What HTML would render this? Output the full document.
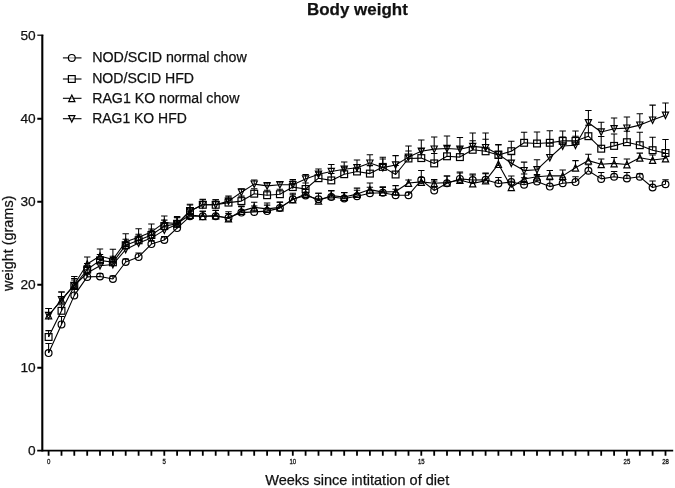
<!DOCTYPE html>
<html><head><meta charset="utf-8"><title>Body weight</title>
<style>
html,body{margin:0;padding:0;background:#fff;}
body{width:675px;height:488px;overflow:hidden;}
svg{display:block;font-family:"Liberation Sans",Arial,Helvetica,sans-serif;fill:#111;}
.ax{stroke:#000;stroke-width:1.9;fill:none;stroke-linecap:butt}
.ln{stroke:#000;stroke-width:1.1;fill:none;stroke-linejoin:round}
.mk{stroke:#000;stroke-width:1.2;fill:none}
.lg{fill:#fff;fill-opacity:.6}
.eb{stroke:#000;stroke-width:1.05;fill:none}
text{stroke:#111;stroke-width:.25}
</style></head><body>
<svg width="675" height="488" viewBox="0 0 675 488">
<rect x="0" y="0" width="675" height="488" fill="#fff" stroke="none"/>
<text x="357.4" y="15.1" text-anchor="middle" font-size="17.4" font-weight="bold" textLength="100.8" lengthAdjust="spacingAndGlyphs">Body weight</text>
<path class="ax" style="stroke-width:2.1" d="M42.3,34.7V451.5"/>
<path class="ax" d="M37.2,450.6H673.2"/>
<path class="ax" style="stroke-width:1.9" d="M37.3,118.7H42.3M37.3,201.7H42.3M37.3,284.7H42.3M37.3,367.7H42.3"/>
<path class="ax" style="stroke-width:1.2" d="M37.3,35.2H43.3"/>
<text x="35.7" y="39.8" text-anchor="end" font-size="13.7">50</text>
<text x="35.7" y="123.2" text-anchor="end" font-size="13.7">40</text>
<text x="35.7" y="206.1" text-anchor="end" font-size="13.7">30</text>
<text x="35.7" y="289.1" text-anchor="end" font-size="13.7">20</text>
<text x="35.7" y="372.1" text-anchor="end" font-size="13.7">10</text>
<text x="35.7" y="455.1" text-anchor="end" font-size="13.7">0</text>
<path class="ax" style="stroke-width:1.8" d="M48.6,450.6V455.7M61.5,450.6V455.7M74.3,450.6V455.7M87.2,450.6V455.7M100,450.6V455.7M112.9,450.6V455.7M125.7,450.6V455.7M138.6,450.6V455.7M151.4,450.6V455.7M164.3,450.6V455.7M177.1,450.6V455.7M190,450.6V455.7M202.8,450.6V455.7M215.7,450.6V455.7M228.5,450.6V455.7M241.4,450.6V455.7M254.2,450.6V455.7M267.1,450.6V455.7M279.9,450.6V455.7M292.8,450.6V455.7M305.6,450.6V455.7M318.5,450.6V455.7M331.3,450.6V455.7M344.2,450.6V455.7M357,450.6V455.7M369.9,450.6V455.7M382.8,450.6V455.7M395.6,450.6V455.7M408.5,450.6V455.7M421.3,450.6V455.7M434.2,450.6V455.7M447,450.6V455.7M459.9,450.6V455.7M472.7,450.6V455.7M485.6,450.6V455.7M498.4,450.6V455.7M511.3,450.6V455.7M524.1,450.6V455.7M537,450.6V455.7M549.8,450.6V455.7M562.7,450.6V455.7M575.5,450.6V455.7M588.4,450.6V455.7M601.2,450.6V455.7M614.1,450.6V455.7M626.9,450.6V455.7M639.8,450.6V455.7M652.6,450.6V455.7M665.5,450.6V455.7"/>
<text x="48.6" y="464.4" text-anchor="middle" font-size="7.6" style="stroke-width:.3" textLength="3.4" lengthAdjust="spacingAndGlyphs">0</text>
<text x="164.3" y="464.4" text-anchor="middle" font-size="7.6" style="stroke-width:.3" textLength="3.4" lengthAdjust="spacingAndGlyphs">5</text>
<text x="292.8" y="464.4" text-anchor="middle" font-size="7.6" style="stroke-width:.3" textLength="6.7" lengthAdjust="spacingAndGlyphs">10</text>
<text x="421.3" y="464.4" text-anchor="middle" font-size="7.6" style="stroke-width:.3" textLength="6.7" lengthAdjust="spacingAndGlyphs">15</text>
<text x="626.9" y="464.4" text-anchor="middle" font-size="7.6" style="stroke-width:.3" textLength="6.7" lengthAdjust="spacingAndGlyphs">25</text>
<text x="665.5" y="464.4" text-anchor="middle" font-size="7.6" style="stroke-width:.3" textLength="6.7" lengthAdjust="spacingAndGlyphs">28</text>
<text x="357.2" y="484.8" text-anchor="middle" font-size="14.5" textLength="184" lengthAdjust="spacingAndGlyphs">Weeks since intitation of diet</text>
<text transform="translate(12.6,243.3) rotate(-90)" text-anchor="middle" font-size="14.5" textLength="95.4" lengthAdjust="spacingAndGlyphs">weight (grams)</text>
<path class="ln" d="M62.9,57.9H81.5"/><g class="mk lg"><circle cx="71.8" cy="57.9" r="3.4"/></g><text x="92.2" y="62.25" font-size="14.7" textLength="154.6" lengthAdjust="spacingAndGlyphs">NOD/SCID normal chow</text>
<path class="ln" d="M62.9,79.0H81.5"/><g class="mk lg"><rect x="68.4" y="75.6" width="6.8" height="6.8"/></g><text x="92.2" y="83.2" font-size="14.7" textLength="101.8" lengthAdjust="spacingAndGlyphs">NOD/SCID HFD</text>
<path class="ln" d="M62.9,98.3H81.5"/><g class="mk lg"><path d="M71.8,95.1L74.9,101.7L68.7,101.7Z"/></g><text x="92.2" y="102.55" font-size="14.7" textLength="147.2" lengthAdjust="spacingAndGlyphs">RAG1 KO normal chow</text>
<path class="ln" d="M62.9,118.7H81.5"/><g class="mk lg"><path d="M71.8,122L74.9,115.6L68.7,115.6Z"/></g><text x="92.2" y="123.2" font-size="14.7" textLength="94.6" lengthAdjust="spacingAndGlyphs">RAG1 KO HFD</text>
<polyline class="ln" points="48.6,353.1 61.5,324.4 74.3,295.4 87.2,276.9 100,276.5 112.9,279 125.7,262 138.6,256.9 151.4,244.1 164.3,240 177.1,228.1 190,216.3 202.8,216.3 215.7,216.3 228.5,217.8 241.4,212.6 254.2,211.9 267.1,211.1 279.9,208.1 292.8,199.3 305.6,195.5 318.5,199.3 331.3,197 344.2,198.5 357,196.3 369.9,193.2 382.8,192.8 395.6,195.2 408.5,195.2 421.3,180 434.2,190.4 447,183.3 459.9,178.9 472.7,180 485.6,179.8 498.4,183.5 511.3,182 524.1,184.8 537,181.4 549.8,186.6 562.7,183.2 575.5,182.1 588.4,170.7 601.2,178.9 614.1,176.8 626.9,178.5 639.8,176.8 652.6,187.5 665.5,184.3"/>
<path class="eb" d="M48.6,353.1V343.4M45.4,343.4H51.8M61.5,324.4V316.4M58.3,316.4H64.7M74.3,295.4V288.4M71.1,288.4H77.5M87.2,276.9V273.7M84,273.7H90.4M100,276.5V273.5M96.8,273.5H103.2M112.9,279V276M109.7,276H116.1M125.7,262V259M122.5,259H128.9M138.6,256.9V252.9M135.4,252.9H141.8M151.4,244.1V240.6M148.2,240.6H154.6M164.3,240V236.5M161.1,236.5H167.5M177.1,228.1V223.1M173.9,223.1H180.3M190,216.3V211.3M186.8,211.3H193.2M202.8,216.3V211.3M199.6,211.3H206M215.7,216.3V210.3M212.5,210.3H218.9M228.5,217.8V211.8M225.3,211.8H231.7M241.4,212.6V206.6M238.2,206.6H244.6M254.2,211.9V205.9M251,205.9H257.4M267.1,211.1V205.1M263.9,205.1H270.3M279.9,208.1V202.1M276.7,202.1H283.1M292.8,199.3V193.3M289.6,193.3H296M305.6,195.5V189.5M302.4,189.5H308.8M318.5,199.3V193.3M315.3,193.3H321.7M331.3,197V191M328.1,191H334.5M344.2,198.5V192.5M341,192.5H347.4M357,196.3V190.3M353.8,190.3H360.2M369.9,193.2V187.2M366.7,187.2H373.1M382.8,192.8V186.8M379.6,186.8H386M395.6,195.2V189.2M392.4,189.2H398.8M408.5,195.2V192.2M405.3,192.2H411.7M421.3,180V170.4M418.1,170.4H424.5M434.2,190.4V181M431,181H437.4M447,183.3V176M443.8,176H450.2M459.9,178.9V172.9M456.7,172.9H463.1M472.7,180V174M469.5,174H475.9M485.6,179.8V173.8M482.4,173.8H488.8M498.4,183.5V177.5M495.2,177.5H501.6M511.3,182V176M508.1,176H514.5M524.1,184.8V177.8M520.9,177.8H527.3M537,181.4V174.4M533.8,174.4H540.2M549.8,186.6V179.6M546.6,179.6H553M562.7,183.2V177.2M559.5,177.2H565.9M575.5,182.1V176.8M572.3,176.8H578.7M588.4,170.7V164.7M585.2,164.7H591.6M601.2,178.9V172.5M598,172.5H604.4M614.1,176.8V171.4M610.9,171.4H617.3M626.9,178.5V172.5M623.7,172.5H630.1M639.8,176.8V173.8M636.6,173.8H643M652.6,187.5V181M649.4,181H655.8M665.5,184.3V179.8M662.3,179.8H668.7"/>
<g class="mk"><circle cx="48.6" cy="353.1" r="3.4"/><circle cx="61.5" cy="324.4" r="3.4"/><circle cx="74.3" cy="295.4" r="3.4"/><circle cx="87.2" cy="276.9" r="3.4"/><circle cx="100" cy="276.5" r="3.4"/><circle cx="112.9" cy="279" r="3.4"/><circle cx="125.7" cy="262" r="3.4"/><circle cx="138.6" cy="256.9" r="3.4"/><circle cx="151.4" cy="244.1" r="3.4"/><circle cx="164.3" cy="240" r="3.4"/><circle cx="177.1" cy="228.1" r="3.4"/><circle cx="190" cy="216.3" r="3.4"/><circle cx="202.8" cy="216.3" r="3.4"/><circle cx="215.7" cy="216.3" r="3.4"/><circle cx="228.5" cy="217.8" r="3.4"/><circle cx="241.4" cy="212.6" r="3.4"/><circle cx="254.2" cy="211.9" r="3.4"/><circle cx="267.1" cy="211.1" r="3.4"/><circle cx="279.9" cy="208.1" r="3.4"/><circle cx="292.8" cy="199.3" r="3.4"/><circle cx="305.6" cy="195.5" r="3.4"/><circle cx="318.5" cy="199.3" r="3.4"/><circle cx="331.3" cy="197" r="3.4"/><circle cx="344.2" cy="198.5" r="3.4"/><circle cx="357" cy="196.3" r="3.4"/><circle cx="369.9" cy="193.2" r="3.4"/><circle cx="382.8" cy="192.8" r="3.4"/><circle cx="395.6" cy="195.2" r="3.4"/><circle cx="408.5" cy="195.2" r="3.4"/><circle cx="421.3" cy="180" r="3.4"/><circle cx="434.2" cy="190.4" r="3.4"/><circle cx="447" cy="183.3" r="3.4"/><circle cx="459.9" cy="178.9" r="3.4"/><circle cx="472.7" cy="180" r="3.4"/><circle cx="485.6" cy="179.8" r="3.4"/><circle cx="498.4" cy="183.5" r="3.4"/><circle cx="511.3" cy="182" r="3.4"/><circle cx="524.1" cy="184.8" r="3.4"/><circle cx="537" cy="181.4" r="3.4"/><circle cx="549.8" cy="186.6" r="3.4"/><circle cx="562.7" cy="183.2" r="3.4"/><circle cx="575.5" cy="182.1" r="3.4"/><circle cx="588.4" cy="170.7" r="3.4"/><circle cx="601.2" cy="178.9" r="3.4"/><circle cx="614.1" cy="176.8" r="3.4"/><circle cx="626.9" cy="178.5" r="3.4"/><circle cx="639.8" cy="176.8" r="3.4"/><circle cx="652.6" cy="187.5" r="3.4"/><circle cx="665.5" cy="184.3" r="3.4"/></g>
<polyline class="ln" points="48.6,337 61.5,310.8 74.3,286 87.2,269.5 100,260.4 112.9,262.3 125.7,245.2 138.6,240.3 151.4,235 164.3,226.1 177.1,223.8 190,211 202.8,204.8 215.7,204.8 228.5,202.6 241.4,201.1 254.2,193.7 267.1,195.2 279.9,194.2 292.8,187.1 305.6,189 318.5,178.2 331.3,180.4 344.2,174.2 357,171.5 369.9,173.6 382.8,166.9 395.6,174.5 408.5,158.5 421.3,158.1 434.2,163.4 447,156.3 459.9,157.1 472.7,149.8 485.6,151.3 498.4,155 511.3,151.2 524.1,142.8 537,143.5 549.8,142.8 562.7,140.9 575.5,140.9 588.4,136.2 601.2,148.7 614.1,145.9 626.9,142.2 639.8,145.2 652.6,150.2 665.5,153"/>
<path class="eb" d="M48.6,337V330.6M45.4,330.6H51.8M61.5,310.8V304.8M58.3,304.8H64.7M74.3,286V280M71.1,280H77.5M87.2,269.5V263.5M84,263.5H90.4M100,260.4V254.4M96.8,254.4H103.2M112.9,262.3V256.3M109.7,256.3H116.1M125.7,245.2V239.2M122.5,239.2H128.9M138.6,240.3V234.3M135.4,234.3H141.8M151.4,235V229M148.2,229H154.6M164.3,226.1V220.1M161.1,220.1H167.5M177.1,223.8V217.8M173.9,217.8H180.3M190,211V205M186.8,205H193.2M202.8,204.8V199.3M199.6,199.3H206M215.7,204.8V199.7M212.5,199.7H218.9M228.5,202.6V198.1M225.3,198.1H231.7M241.4,201.1V196.1M238.2,196.1H244.6M254.2,193.7V188.7M251,188.7H257.4M267.1,195.2V190.2M263.9,190.2H270.3M279.9,194.2V189.2M276.7,189.2H283.1M292.8,187.1V181.1M289.6,181.1H296M305.6,189V183M302.4,183H308.8M318.5,178.2V172.2M315.3,172.2H321.7M331.3,180.4V173.4M328.1,173.4H334.5M344.2,174.2V167.2M341,167.2H347.4M357,171.5V164.5M353.8,164.5H360.2M369.9,173.6V165.6M366.7,165.6H373.1M382.8,166.9V158.9M379.6,158.9H386M395.6,174.5V165.5M392.4,165.5H398.8M408.5,158.5V150.9M405.3,150.9H411.7M421.3,158.1V148.6M418.1,148.6H424.5M434.2,163.4V153.4M431,153.4H437.4M447,156.3V146.3M443.8,146.3H450.2M459.9,157.1V147.1M456.7,147.1H463.1M472.7,149.8V140.8M469.5,140.8H475.9M485.6,151.3V139.3M482.4,139.3H488.8M498.4,155V145M495.2,145H501.6M511.3,151.2V141.2M508.1,141.2H514.5M524.1,142.8V132.2M520.9,132.2H527.3M537,143.5V132M533.8,132H540.2M549.8,142.8V130.8M546.6,130.8H553M562.7,140.9V130.9M559.5,130.9H565.9M575.5,140.9V130.9M572.3,130.9H578.7M588.4,136.2V125.2M585.2,125.2H591.6M601.2,148.7V136.4M598,136.4H604.4M614.1,145.9V133.9M610.9,133.9H617.3M626.9,142.2V131.2M623.7,131.2H630.1M639.8,145.2V132.3M636.6,132.3H643M652.6,150.2V137.3M649.4,137.3H655.8M665.5,153V139.4M662.3,139.4H668.7"/>
<g class="mk"><rect x="45.2" y="333.6" width="6.8" height="6.8"/><rect x="58.1" y="307.4" width="6.8" height="6.8"/><rect x="70.9" y="282.6" width="6.8" height="6.8"/><rect x="83.8" y="266.1" width="6.8" height="6.8"/><rect x="96.6" y="257" width="6.8" height="6.8"/><rect x="109.5" y="258.9" width="6.8" height="6.8"/><rect x="122.3" y="241.8" width="6.8" height="6.8"/><rect x="135.2" y="236.9" width="6.8" height="6.8"/><rect x="148" y="231.6" width="6.8" height="6.8"/><rect x="160.9" y="222.7" width="6.8" height="6.8"/><rect x="173.7" y="220.4" width="6.8" height="6.8"/><rect x="186.6" y="207.6" width="6.8" height="6.8"/><rect x="199.4" y="201.4" width="6.8" height="6.8"/><rect x="212.3" y="201.4" width="6.8" height="6.8"/><rect x="225.1" y="199.2" width="6.8" height="6.8"/><rect x="238" y="197.7" width="6.8" height="6.8"/><rect x="250.8" y="190.3" width="6.8" height="6.8"/><rect x="263.7" y="191.8" width="6.8" height="6.8"/><rect x="276.5" y="190.8" width="6.8" height="6.8"/><rect x="289.4" y="183.7" width="6.8" height="6.8"/><rect x="302.2" y="185.6" width="6.8" height="6.8"/><rect x="315.1" y="174.8" width="6.8" height="6.8"/><rect x="327.9" y="177" width="6.8" height="6.8"/><rect x="340.8" y="170.8" width="6.8" height="6.8"/><rect x="353.6" y="168.1" width="6.8" height="6.8"/><rect x="366.5" y="170.2" width="6.8" height="6.8"/><rect x="379.4" y="163.5" width="6.8" height="6.8"/><rect x="392.2" y="171.1" width="6.8" height="6.8"/><rect x="405.1" y="155.1" width="6.8" height="6.8"/><rect x="417.9" y="154.7" width="6.8" height="6.8"/><rect x="430.8" y="160" width="6.8" height="6.8"/><rect x="443.6" y="152.9" width="6.8" height="6.8"/><rect x="456.5" y="153.7" width="6.8" height="6.8"/><rect x="469.3" y="146.4" width="6.8" height="6.8"/><rect x="482.2" y="147.9" width="6.8" height="6.8"/><rect x="495" y="151.6" width="6.8" height="6.8"/><rect x="507.9" y="147.8" width="6.8" height="6.8"/><rect x="520.7" y="139.4" width="6.8" height="6.8"/><rect x="533.6" y="140.1" width="6.8" height="6.8"/><rect x="546.4" y="139.4" width="6.8" height="6.8"/><rect x="559.3" y="137.5" width="6.8" height="6.8"/><rect x="572.1" y="137.5" width="6.8" height="6.8"/><rect x="585" y="132.8" width="6.8" height="6.8"/><rect x="597.8" y="145.3" width="6.8" height="6.8"/><rect x="610.7" y="142.5" width="6.8" height="6.8"/><rect x="623.5" y="138.8" width="6.8" height="6.8"/><rect x="636.4" y="141.8" width="6.8" height="6.8"/><rect x="649.2" y="146.8" width="6.8" height="6.8"/><rect x="662.1" y="149.6" width="6.8" height="6.8"/></g>
<polyline class="ln" points="48.6,315.5 61.5,299.8 74.3,284.5 87.2,264 100,256 112.9,259.5 125.7,241.7 138.6,237.2 151.4,231.9 164.3,222.6 177.1,223.5 190,215 202.8,216.3 215.7,215.5 228.5,218.5 241.4,211.1 254.2,207.4 267.1,208.9 279.9,207.4 292.8,199.6 305.6,194 318.5,200.7 331.3,195.6 344.2,197 357,194.1 369.9,189.6 382.8,192.1 395.6,191.5 408.5,183 421.3,181.9 434.2,183.3 447,182.6 459.9,180 472.7,183.5 485.6,180.6 498.4,164.1 511.3,187.2 524.1,179 537,176.7 549.8,175.7 562.7,175.9 575.5,167.7 588.4,160.6 601.2,164.3 614.1,163.4 626.9,164.5 639.8,157.8 652.6,160 665.5,158.5"/>
<path class="eb" d="M48.6,315.5V308.4M45.4,308.4H51.8M61.5,299.8V292M58.3,292H64.7M74.3,284.5V276.5M71.1,276.5H77.5M87.2,264V256.9M84,256.9H90.4M100,256V248.9M96.8,248.9H103.2M112.9,259.5V249.2M109.7,249.2H116.1M125.7,241.7V233.7M122.5,233.7H128.9M138.6,237.2V228.8M135.4,228.8H141.8M151.4,231.9V223.9M148.2,223.9H154.6M164.3,222.6V215.9M161.1,215.9H167.5M177.1,223.5V216.5M173.9,216.5H180.3M190,215V209M186.8,209H193.2M202.8,216.3V211.3M199.6,211.3H206M215.7,215.5V210.5M212.5,210.5H218.9M228.5,218.5V213.5M225.3,213.5H231.7M241.4,211.1V206.1M238.2,206.1H244.6M254.2,207.4V202.2M251,202.2H257.4M267.1,208.9V203M263.9,203H270.3M279.9,207.4V202.2M276.7,202.2H283.1M292.8,199.6V194.8M289.6,194.8H296M305.6,194V189M302.4,189H308.8M318.5,200.7V193.3M315.3,193.3H321.7M331.3,195.6V190.4M328.1,190.4H334.5M344.2,197V192.6M341,192.6H347.4M357,194.1V188.1M353.8,188.1H360.2M369.9,189.6V183M366.7,183H373.1M382.8,192.1V187.4M379.6,187.4H386M395.6,191.5V185.6M392.4,185.6H398.8M408.5,183V180M405.3,180H411.7M421.3,181.9V177.4M418.1,177.4H424.5M434.2,183.3V179.5M431,179.5H437.4M447,182.6V176M443.8,176H450.2M459.9,180V172M456.7,172H463.1M472.7,183.5V175M469.5,175H475.9M485.6,180.6V173.1M482.4,173.1H488.8M498.4,164.1V158.1M495.2,158.1H501.6M511.3,187.2V181.2M508.1,181.2H514.5M524.1,179V173.9M520.9,173.9H527.3M537,176.7V175.2M533.8,175.2H540.2M549.8,175.7V170.5M546.6,170.5H553M562.7,175.9V169.9M559.5,169.9H565.9M575.5,167.7V160.6M572.3,160.6H578.7M588.4,160.6V154.2M585.2,154.2H591.6M601.2,164.3V158.9M598,158.9H604.4M614.1,163.4V157.4M610.9,157.4H617.3M626.9,164.5V158.9M623.7,158.9H630.1M639.8,157.8V153.1M636.6,153.1H643M652.6,160V155M649.4,155H655.8M665.5,158.5V153.5M662.3,153.5H668.7"/>
<g class="mk"><path d="M48.6,312.3L51.7,318.9L45.5,318.9Z"/><path d="M61.5,296.6L64.6,303.2L58.4,303.2Z"/><path d="M74.3,281.3L77.4,287.9L71.2,287.9Z"/><path d="M87.2,260.8L90.3,267.4L84.1,267.4Z"/><path d="M100,252.8L103.1,259.4L96.9,259.4Z"/><path d="M112.9,256.3L116,262.9L109.8,262.9Z"/><path d="M125.7,238.5L128.8,245.1L122.6,245.1Z"/><path d="M138.6,234L141.7,240.6L135.5,240.6Z"/><path d="M151.4,228.7L154.5,235.3L148.3,235.3Z"/><path d="M164.3,219.4L167.4,226L161.2,226Z"/><path d="M177.1,220.3L180.2,226.9L174,226.9Z"/><path d="M190,211.8L193.1,218.4L186.9,218.4Z"/><path d="M202.8,213.1L205.9,219.7L199.7,219.7Z"/><path d="M215.7,212.3L218.8,218.9L212.6,218.9Z"/><path d="M228.5,215.3L231.6,221.9L225.4,221.9Z"/><path d="M241.4,207.9L244.5,214.5L238.3,214.5Z"/><path d="M254.2,204.2L257.3,210.8L251.1,210.8Z"/><path d="M267.1,205.7L270.2,212.3L264,212.3Z"/><path d="M279.9,204.2L283,210.8L276.8,210.8Z"/><path d="M292.8,196.4L295.9,203L289.7,203Z"/><path d="M305.6,190.8L308.7,197.4L302.5,197.4Z"/><path d="M318.5,197.5L321.6,204.1L315.4,204.1Z"/><path d="M331.3,192.4L334.4,199L328.2,199Z"/><path d="M344.2,193.8L347.3,200.4L341.1,200.4Z"/><path d="M357,190.9L360.1,197.5L353.9,197.5Z"/><path d="M369.9,186.4L373,193L366.8,193Z"/><path d="M382.8,188.9L385.9,195.5L379.7,195.5Z"/><path d="M395.6,188.3L398.7,194.9L392.5,194.9Z"/><path d="M408.5,179.8L411.6,186.4L405.4,186.4Z"/><path d="M421.3,178.7L424.4,185.3L418.2,185.3Z"/><path d="M434.2,180.1L437.3,186.7L431.1,186.7Z"/><path d="M447,179.4L450.1,186L443.9,186Z"/><path d="M459.9,176.8L463,183.4L456.8,183.4Z"/><path d="M472.7,180.3L475.8,186.9L469.6,186.9Z"/><path d="M485.6,177.4L488.7,184L482.5,184Z"/><path d="M498.4,160.9L501.5,167.5L495.3,167.5Z"/><path d="M511.3,184L514.4,190.6L508.2,190.6Z"/><path d="M524.1,175.8L527.2,182.4L521,182.4Z"/><path d="M537,173.5L540.1,180.1L533.9,180.1Z"/><path d="M549.8,172.5L552.9,179.1L546.7,179.1Z"/><path d="M562.7,172.7L565.8,179.3L559.6,179.3Z"/><path d="M575.5,164.5L578.6,171.1L572.4,171.1Z"/><path d="M588.4,157.4L591.5,164L585.3,164Z"/><path d="M601.2,161.1L604.3,167.7L598.1,167.7Z"/><path d="M614.1,160.2L617.2,166.8L611,166.8Z"/><path d="M626.9,161.3L630,167.9L623.8,167.9Z"/><path d="M639.8,154.6L642.9,161.2L636.7,161.2Z"/><path d="M652.6,156.8L655.7,163.4L649.5,163.4Z"/><path d="M665.5,155.3L668.6,161.9L662.4,161.9Z"/></g>
<polyline class="ln" points="48.6,315.5 61.5,299.8 74.3,285.5 87.2,273 100,265.8 112.9,264.5 125.7,249.5 138.6,243.1 151.4,238.1 164.3,230.1 177.1,224.2 190,211 202.8,204.8 215.7,204.8 228.5,201.1 241.4,192.3 254.2,184.1 267.1,185.9 279.9,184.8 292.8,184.8 305.6,179 318.5,174.2 331.3,171.5 344.2,169.3 357,167.8 369.9,163.1 382.8,167.6 395.6,165 408.5,157.1 421.3,151.2 434.2,149.1 447,148.5 459.9,149.2 472.7,146.4 485.6,147.6 498.4,154.3 511.3,163.2 524.1,170.6 537,169.7 549.8,157.6 562.7,146 575.5,145.3 588.4,122.7 601.2,132 614.1,128.7 626.9,128.1 639.8,125.1 652.6,120.1 665.5,115.2"/>
<path class="eb" d="M48.6,315.5V308.4M45.4,308.4H51.8M61.5,299.8V292M58.3,292H64.7M74.3,285.5V278.5M71.1,278.5H77.5M87.2,273V266M84,266H90.4M100,265.8V258.8M96.8,258.8H103.2M112.9,264.5V257.5M109.7,257.5H116.1M125.7,249.5V242.5M122.5,242.5H128.9M138.6,243.1V236.1M135.4,236.1H141.8M151.4,238.1V231.1M148.2,231.1H154.6M164.3,230.1V223.1M161.1,223.1H167.5M177.1,224.2V217.2M173.9,217.2H180.3M190,211V204.3M186.8,204.3H193.2M202.8,204.8V199.7M199.6,199.7H206M215.7,204.8V199.7M212.5,199.7H218.9M228.5,201.1V196.1M225.3,196.1H231.7M241.4,192.3V188.8M238.2,188.8H244.6M254.2,184.1V180M251,180H257.4M267.1,185.9V182.6M263.9,182.6H270.3M279.9,184.8V181.9M276.7,181.9H283.1M292.8,184.8V179.4M289.6,179.4H296M305.6,179V174.4M302.4,174.4H308.8M318.5,174.2V168.9M315.3,168.9H321.7M331.3,171.5V164.4M328.1,164.4H334.5M344.2,169.3V161.9M341,161.9H347.4M357,167.8V160M353.8,160H360.2M369.9,163.1V154.7M366.7,154.7H373.1M382.8,167.6V157.2M379.6,157.2H386M395.6,165V155.6M392.4,155.6H398.8M408.5,157.1V146M405.3,146H411.7M421.3,151.2V140M418.1,140H424.5M434.2,149.1V137M431,137H437.4M447,148.5V136M443.8,136H450.2M459.9,149.2V137.5M456.7,137.5H463.1M472.7,146.4V133M469.5,133H475.9M485.6,147.6V133M482.4,133H488.8M498.4,154.3V144.4M495.2,144.4H501.6M511.3,163.2V154.2M508.1,154.2H514.5M524.1,170.6V162.1M520.9,162.1H527.3M537,169.7V159.8M533.8,159.8H540.2M549.8,157.6V143.1M546.6,143.1H553M562.7,146V137M559.5,137H565.9M575.5,145.3V136.3M572.3,136.3H578.7M588.4,122.7V110.5M585.2,110.5H591.6M601.2,132V122.3M598,122.3H604.4M614.1,128.7V118M610.9,118H617.3M626.9,128.1V116.9M623.7,116.9H630.1M639.8,125.1V113.7M636.6,113.7H643M652.6,120.1V105.1M649.4,105.1H655.8M665.5,115.2V102.9M662.3,102.9H668.7"/>
<g class="mk"><path d="M48.6,318.8L51.7,312.4L45.5,312.4Z"/><path d="M61.5,303.1L64.6,296.7L58.4,296.7Z"/><path d="M74.3,288.8L77.4,282.4L71.2,282.4Z"/><path d="M87.2,276.3L90.3,269.9L84.1,269.9Z"/><path d="M100,269.1L103.1,262.7L96.9,262.7Z"/><path d="M112.9,267.8L116,261.4L109.8,261.4Z"/><path d="M125.7,252.8L128.8,246.4L122.6,246.4Z"/><path d="M138.6,246.4L141.7,240L135.5,240Z"/><path d="M151.4,241.4L154.5,235L148.3,235Z"/><path d="M164.3,233.4L167.4,227L161.2,227Z"/><path d="M177.1,227.5L180.2,221.1L174,221.1Z"/><path d="M190,214.3L193.1,207.9L186.9,207.9Z"/><path d="M202.8,208.1L205.9,201.7L199.7,201.7Z"/><path d="M215.7,208.1L218.8,201.7L212.6,201.7Z"/><path d="M228.5,204.4L231.6,198L225.4,198Z"/><path d="M241.4,195.6L244.5,189.2L238.3,189.2Z"/><path d="M254.2,187.4L257.3,181L251.1,181Z"/><path d="M267.1,189.2L270.2,182.8L264,182.8Z"/><path d="M279.9,188.1L283,181.7L276.8,181.7Z"/><path d="M292.8,188.1L295.9,181.7L289.7,181.7Z"/><path d="M305.6,182.3L308.7,175.9L302.5,175.9Z"/><path d="M318.5,177.5L321.6,171.1L315.4,171.1Z"/><path d="M331.3,174.8L334.4,168.4L328.2,168.4Z"/><path d="M344.2,172.6L347.3,166.2L341.1,166.2Z"/><path d="M357,171.1L360.1,164.7L353.9,164.7Z"/><path d="M369.9,166.4L373,160L366.8,160Z"/><path d="M382.8,170.9L385.9,164.5L379.7,164.5Z"/><path d="M395.6,168.3L398.7,161.9L392.5,161.9Z"/><path d="M408.5,160.4L411.6,154L405.4,154Z"/><path d="M421.3,154.5L424.4,148.1L418.2,148.1Z"/><path d="M434.2,152.4L437.3,146L431.1,146Z"/><path d="M447,151.8L450.1,145.4L443.9,145.4Z"/><path d="M459.9,152.5L463,146.1L456.8,146.1Z"/><path d="M472.7,149.7L475.8,143.3L469.6,143.3Z"/><path d="M485.6,150.9L488.7,144.5L482.5,144.5Z"/><path d="M498.4,157.6L501.5,151.2L495.3,151.2Z"/><path d="M511.3,166.5L514.4,160.1L508.2,160.1Z"/><path d="M524.1,173.9L527.2,167.5L521,167.5Z"/><path d="M537,173L540.1,166.6L533.9,166.6Z"/><path d="M549.8,160.9L552.9,154.5L546.7,154.5Z"/><path d="M562.7,149.3L565.8,142.9L559.6,142.9Z"/><path d="M575.5,148.6L578.6,142.2L572.4,142.2Z"/><path d="M588.4,126L591.5,119.6L585.3,119.6Z"/><path d="M601.2,135.3L604.3,128.9L598.1,128.9Z"/><path d="M614.1,132L617.2,125.6L611,125.6Z"/><path d="M626.9,131.4L630,125L623.8,125Z"/><path d="M639.8,128.4L642.9,122L636.7,122Z"/><path d="M652.6,123.4L655.7,117L649.5,117Z"/><path d="M665.5,118.5L668.6,112.1L662.4,112.1Z"/></g>
</svg></body></html>
